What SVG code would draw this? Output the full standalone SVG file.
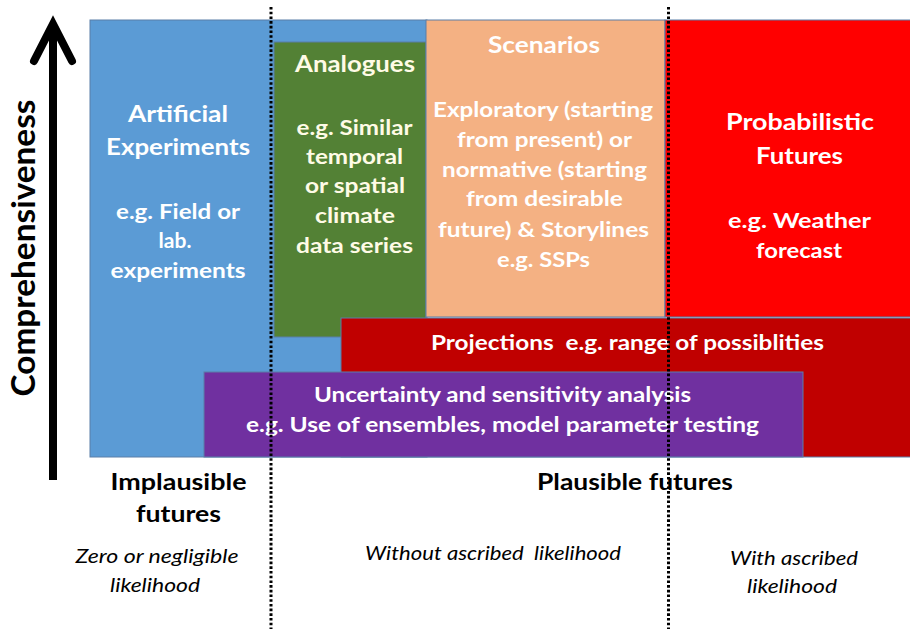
<svg xmlns="http://www.w3.org/2000/svg" width="910" height="629" viewBox="0 0 910 629">
<style>
.box{stroke:#5a7ea8;stroke-width:1}
.t{font-family:Lato,"Liberation Sans",Arial,sans-serif;font-weight:bold;text-anchor:middle;fill:#ffffff}
.ti{font-size:22px}
.tb{font-size:21px}
.cream{fill:#fffbe6}
.lbl{font-family:Lato,"Liberation Sans",Arial,sans-serif;font-weight:bold;text-anchor:middle;fill:#000;font-size:22px}
.it{font-family:Lato,"Liberation Sans",Arial,sans-serif;font-style:italic;text-anchor:middle;fill:#000;font-size:18.5px}
.dot{stroke:#000;stroke-width:3;stroke-dasharray:2.6 2.1;fill:none}
</style>
<rect width="910" height="629" fill="#ffffff"/>

<g id="axis">
<line x1="53" y1="480" x2="53" y2="26" stroke="#000" stroke-width="8"/>
<polyline points="34,61 53,24 72,61" fill="none" stroke="#000" stroke-width="8" stroke-linecap="round" stroke-linejoin="miter"/>
<text transform="translate(35,248) rotate(-90)" text-anchor="middle" font-family="Lato,'Liberation Sans',Arial,sans-serif" font-weight="bold" font-size="32" fill="#000" textLength="297" lengthAdjust="spacingAndGlyphs">Comprehensiveness</text>
</g>

<g id="artificial">
<rect class="box" x="90" y="20" width="337" height="437" fill="#5b9bd5"/>
<text class="t ti" x="178" y="122" textLength="100" lengthAdjust="spacingAndGlyphs">Artificial</text>
<text class="t ti" x="178" y="155" textLength="144" lengthAdjust="spacingAndGlyphs">Experiments</text>
<text class="t tb" x="178" y="219" textLength="124" lengthAdjust="spacingAndGlyphs">e.g. Field or</text>
<text class="t tb" x="175" y="248">lab.</text>
<text class="t tb" x="178" y="278" textLength="135" lengthAdjust="spacingAndGlyphs">experiments</text>
</g>

<g id="analogues">
<rect class="box" x="274" y="42" width="152" height="295" fill="#538135"/>
<text class="t ti cream" x="355" y="72" textLength="120" lengthAdjust="spacingAndGlyphs">Analogues</text>
<text class="t tb cream" x="354.5" y="135" textLength="116" lengthAdjust="spacingAndGlyphs">e.g. Similar</text>
<text class="t tb cream" x="354.5" y="164" textLength="97" lengthAdjust="spacingAndGlyphs">temporal</text>
<text class="t tb cream" x="355" y="193" textLength="100" lengthAdjust="spacingAndGlyphs">or spatial</text>
<text class="t tb cream" x="355" y="223" textLength="80" lengthAdjust="spacingAndGlyphs">climate</text>
<text class="t tb cream" x="354.5" y="253" textLength="117" lengthAdjust="spacingAndGlyphs">data series</text>
</g>

<g id="scenarios">
<rect class="box" x="426" y="20" width="239" height="297" fill="#f4b183"/>
<text class="t ti" x="544" y="53" textLength="112" lengthAdjust="spacingAndGlyphs">Scenarios</text>
<text class="t tb" x="543" y="117" textLength="220" lengthAdjust="spacingAndGlyphs">Exploratory (starting</text>
<text class="t tb" x="544.5" y="147" textLength="175" lengthAdjust="spacingAndGlyphs">from present) or</text>
<text class="t tb" x="544.5" y="177" textLength="205" lengthAdjust="spacingAndGlyphs">normative (starting</text>
<text class="t tb" x="544.5" y="206" textLength="157" lengthAdjust="spacingAndGlyphs">from desirable</text>
<text class="t tb" x="543.5" y="237" textLength="211" lengthAdjust="spacingAndGlyphs">future) &amp; Storylines</text>
<text class="t tb" x="543.5" y="267" textLength="93" lengthAdjust="spacingAndGlyphs">e.g. SSPs</text>
</g>

<g id="probabilistic">
<rect class="box" x="665" y="20" width="250" height="297" fill="#ff0000"/>
<text class="t ti" x="800" y="130" textLength="148" lengthAdjust="spacingAndGlyphs">Probabilistic</text>
<text class="t ti" x="799.5" y="164" textLength="87" lengthAdjust="spacingAndGlyphs">Futures</text>
<text class="t tb" x="799.5" y="228" textLength="143" lengthAdjust="spacingAndGlyphs">e.g. Weather</text>
<text class="t tb" x="799" y="258" textLength="86" lengthAdjust="spacingAndGlyphs">forecast</text>
</g>

<g id="projections">
<rect class="box" x="341" y="318" width="574" height="139" fill="#c00000"/>
<text class="t" font-size="21" x="627.5" y="350" textLength="393" lengthAdjust="spacingAndGlyphs" xml:space="preserve">Projections  e.g. range of possiblities</text>
</g>

<g id="uncertainty">
<rect class="box" x="204" y="372" width="599" height="85" fill="#7030a0"/>
<text class="t" font-size="20" x="502.5" y="402" textLength="377" lengthAdjust="spacingAndGlyphs">Uncertainty and sensitivity analysis</text>
<text class="t" font-size="20" x="502.5" y="432" textLength="513" lengthAdjust="spacingAndGlyphs">e.g. Use of ensembles, model parameter testing</text>
</g>

<g id="implausible">
<text class="lbl" x="178.5" y="490" textLength="136" lengthAdjust="spacingAndGlyphs">Implausible</text>
<text class="lbl" x="178.5" y="522" textLength="85" lengthAdjust="spacingAndGlyphs">futures</text>
<text class="it" x="157" y="563" textLength="163" lengthAdjust="spacingAndGlyphs">Zero or negligible</text>
<text class="it" x="155" y="592" textLength="90" lengthAdjust="spacingAndGlyphs">likelihood</text>
</g>

<g id="plausible">
<text class="lbl" x="635" y="490" textLength="196" lengthAdjust="spacingAndGlyphs">Plausible futures</text>
<text class="it" x="493" y="560" textLength="256" lengthAdjust="spacingAndGlyphs" xml:space="preserve">Without ascribed  likelihood</text>
<text class="it" x="794" y="565" textLength="128" lengthAdjust="spacingAndGlyphs">With ascribed</text>
<text class="it" x="792" y="593" textLength="90" lengthAdjust="spacingAndGlyphs">likelihood</text>
</g>

<g id="connectors">
<line class="dot" x1="271" y1="7" x2="271" y2="629"/>
<line class="dot" x1="668.5" y1="7" x2="668.5" y2="629"/>
</g>
</svg>
